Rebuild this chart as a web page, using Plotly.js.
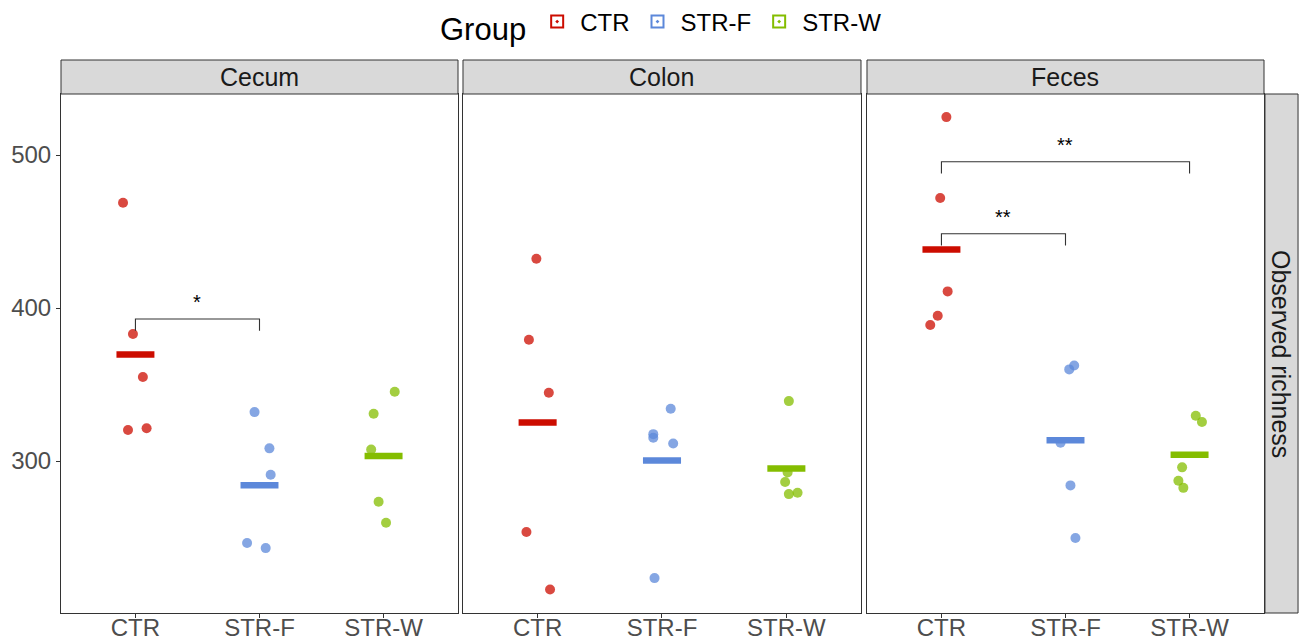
<!DOCTYPE html>
<html>
<head>
<meta charset="utf-8">
<script src="https://cdn.plot.ly/plotly-3.0.1.min.js"></script>
<style>html,body{margin:0;padding:0;background:#fff;}#chart{width:1306px;height:641px;}</style>
</head>
<body>
<div id="chart"></div>
<script>
// ---------------- data ----------------
const categories = ['CTR', 'STR-F', 'STR-W'];
const sites = ['Cecum', 'Colon', 'Feces'];
const groupColors = ['#CC0C00', '#5C88DA', '#84BD00'];

// Observed richness per sample (rows: CTR, STR-F, STR-W)
const cecumValues = [
  [468.8, 383.0, 354.9, 320.3, 321.4],
  [332.0, 308.3, 291.0, 246.4, 243.1],
  [345.3, 330.9, 307.6, 273.4, 259.7]
];
const colonValues = [
  [432.2, 379.3, 344.6, 253.6, 216.1],
  [334.2, 317.6, 315.2, 311.5, 223.5],
  [339.2, 292.6, 286.3, 278.4, 279.3]
];
const fecesValues = [
  [524.8, 471.9, 410.9, 395.0, 388.9],
  [362.5, 359.9, 312.0, 284.1, 249.7],
  [329.6, 325.5, 295.9, 287.1, 282.5]
];
// horizontal jitter of each point (category units)
const cecumJitter = [
  [-0.10, -0.02, 0.06, -0.06, 0.09],
  [-0.04, 0.08, 0.09, -0.10, 0.05],
  [0.09, -0.08, -0.10, -0.04, 0.02]
];
const colonJitter = [
  [-0.01, -0.07, 0.09, -0.09, 0.10],
  [0.07, -0.07, -0.07, 0.09, -0.06],
  [0.02, 0.01, -0.01, 0.02, 0.09]
];
const fecesJitter = [
  [0.04, -0.01, 0.05, -0.03, -0.09],
  [0.07, 0.03, -0.04, 0.04, 0.08],
  [0.05, 0.10, -0.06, -0.09, -0.05]
];

// significance brackets
const sigSite = ['Cecum', 'Feces', 'Feces'];
const sigFrom = ['CTR', 'CTR', 'CTR'];
const sigTo = ['STR-F', 'STR-F', 'STR-W'];
const sigY = [392.8, 448.6, 495.6];
const sigLabel = ['*', '**', '**'];

const yTicks = [300, 400, 500];
const yRange = [200.7, 539.9];

// ---------------- build ----------------
const FONT = 'Liberation Sans, Arial, Helvetica, sans-serif';
const allValues = [cecumValues, colonValues, fecesValues];
const allJitter = [cecumJitter, colonJitter, fecesJitter];
const domains = [[0, 0.33001], [0.33416, 0.66500], [0.66999, 1]];
const halfWidth = 0.153;
const tip = 7.7;

function rgba(hex, a) {
  const r = parseInt(hex.slice(1, 3), 16), g = parseInt(hex.slice(3, 5), 16), b = parseInt(hex.slice(5, 7), 16);
  return `rgba(${r},${g},${b},${a})`;
}

const traces = [];
const axSuffix = ['', '2', '3'];

// points
allValues.forEach((vals, p) => {
  vals.forEach((arr, g) => {
    traces.push({
      type: 'scatter', mode: 'markers',
      x: arr.map((v, i) => (g + 1) + allJitter[p][g][i]),
      y: arr,
      xaxis: 'x' + axSuffix[p], yaxis: 'y' + axSuffix[p],
      marker: { size: 10, color: rgba(groupColors[g], 0.75) },
      showlegend: false, hoverinfo: 'y'
    });
  });
});
// mean lines
allValues.forEach((vals, p) => {
  vals.forEach((arr, g) => {
    const m = arr.reduce((a, b) => a + b, 0) / arr.length;
    traces.push({
      type: 'scatter', mode: 'lines',
      x: [g + 1 - halfWidth, g + 1 + halfWidth],
      y: [m, m],
      xaxis: 'x' + axSuffix[p], yaxis: 'y' + axSuffix[p],
      line: { color: groupColors[g], width: 6.5 },
      showlegend: false, hoverinfo: 'skip'
    });
  });
});
// brackets
const annotations = [];
sigSite.forEach((s, k) => {
  const p = sites.indexOf(s);
  const x1 = categories.indexOf(sigFrom[k]) + 1;
  const x2 = categories.indexOf(sigTo[k]) + 1;
  traces.push({
    type: 'scatter', mode: 'lines',
    x: [x1, x1, x2, x2],
    y: [sigY[k] - tip, sigY[k], sigY[k], sigY[k] - tip],
    xaxis: 'x' + axSuffix[p], yaxis: 'y' + axSuffix[p],
    line: { color: '#333333', width: 1.1 },
    showlegend: false, hoverinfo: 'skip'
  });
  annotations.push({
    text: sigLabel[k], x: (x1 + x2) / 2, y: sigY[k],
    xref: 'x' + axSuffix[p], yref: 'y' + axSuffix[p],
    xanchor: 'center', yanchor: 'bottom', yshift: 4, showarrow: false,
    font: { family: FONT, size: 20, color: '#000' }
  });
});
// legend entries
categories.forEach((c, g) => {
  traces.push({
    type: 'scatter', mode: 'markers', x: [null], y: [null],
    name: c, showlegend: true,
    marker: { symbol: 'square-open-dot', size: 15, color: groupColors[g], line: { width: 2, color: groupColors[g] } }
  });
});

const layout = {
  width: 1306, height: 641,
  margin: { l: 61, r: 42, t: 94, b: 28, autoexpand: false },
  paper_bgcolor: '#fff', plot_bgcolor: '#fff',
  font: { family: FONT, color: '#1a1a1a' },
  showlegend: true,
  legend: {
    orientation: 'h', x: 0.5, xanchor: 'center', y: 1.133, yanchor: 'middle',
    font: { family: FONT, size: 24, color: '#000' },
    title: { text: 'Group', side: 'left', font: { family: FONT, size: 31, color: '#000' } },
    itemsizing: 'constant', itemwidth: 36, bgcolor: 'rgba(0,0,0,0)'
  },
  annotations: annotations,
  shapes: []
};

sites.forEach((s, p) => {
  const xa = {
    domain: domains[p], anchor: 'y' + axSuffix[p],
    range: [0.4, 3.6], tickvals: [1, 2, 3], ticktext: categories,
    ticks: 'outside', ticklen: 4, tickwidth: 1, tickcolor: '#333333',
    ticklabelstandoff: -11,
    tickfont: { family: FONT, size: 24, color: '#4d4d4d' },
    showgrid: false, zeroline: false,
    showline: true, mirror: true, linecolor: '#333333', linewidth: 1
  };
  const ya = {
    domain: [0, 1], anchor: 'x' + axSuffix[p],
    range: yRange, tickvals: yTicks,
    showgrid: false, zeroline: false,
    showline: true, mirror: true, linecolor: '#333333', linewidth: 1
  };
  if (p === 0) {
    Object.assign(ya, { ticks: 'outside', ticklen: 4, tickwidth: 1, tickcolor: '#333333',
      tickfont: { family: FONT, size: 24, color: '#4d4d4d' } });
  } else {
    Object.assign(ya, { matches: 'y', showticklabels: false, ticks: '' });
  }
  layout['xaxis' + axSuffix[p]] = xa;
  layout['yaxis' + axSuffix[p]] = ya;
  // top strip
  layout.shapes.push({
    type: 'rect', xref: 'paper', yref: 'paper',
    x0: domains[p][0], x1: domains[p][1], y0: 1, y1: 1.0655,
    fillcolor: '#d9d9d9', line: { color: '#333333', width: 1 }
  });
  annotations.push({
    text: s, xref: 'paper', yref: 'paper',
    x: (domains[p][0] + domains[p][1]) / 2, y: 1.0328,
    xanchor: 'center', yanchor: 'middle', showarrow: false,
    font: { family: FONT, size: 25, color: '#1a1a1a' }
  });
});
// right strip
layout.shapes.push({
  type: 'rect', xref: 'paper', yref: 'paper',
  x0: 1.0008, x1: 1.0283, y0: 0, y1: 1,
  fillcolor: '#d9d9d9', line: { color: '#333333', width: 1 }
});
annotations.push({
  text: 'Observed richness', xref: 'paper', yref: 'paper',
  x: 1.0146, y: 0.5, xanchor: 'center', yanchor: 'middle', textangle: 90, showarrow: false,
  font: { family: FONT, size: 25, color: '#1a1a1a' }
});

Plotly.newPlot('chart', traces, layout, { displayModeBar: false, staticPlot: true });
</script>
</body>
</html>
